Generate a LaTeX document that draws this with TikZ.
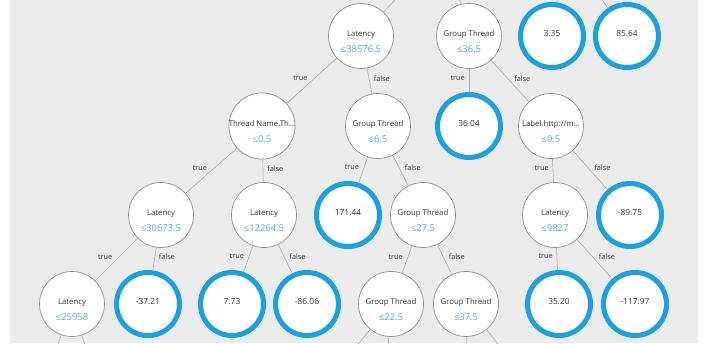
\documentclass[tikz,border=0pt]{standalone}
\usepackage{fontspec}
\setmainfont{Open Sans}
\definecolor{bg}{HTML}{EBEBEB}
\definecolor{ring}{HTML}{1BA1E2}
\definecolor{thr}{HTML}{4FA9D6}
\definecolor{edgec}{HTML}{ABABAB}
\definecolor{txt}{HTML}{333333}
\definecolor{rim}{HTML}{8C8C8C}
\newcommand\splittext[2]{\smash{\fontsize{7.8}{16}\selectfont\begin{tabular}[t]{@{}c@{}}#1\\{\fontsize{9.4}{11}\selectfont\color{thr}#2}\end{tabular}}}
\newcommand\leaftext[1]{\smash{#1}}
\begin{document}
\begin{tikzpicture}[x=1pt,y=-1pt,
  splitn/.style={circle, draw=rim, line width=0.7pt, fill=white, minimum size=65pt, inner sep=0pt, text=txt},
  leafn/.style={circle, draw=ring, line width=5pt, fill=white, minimum size=63pt, inner sep=0pt, text=txt, font=\fontsize{8.4}{10}\selectfont},
  conn/.style={draw=edgec, line width=0.6pt},
  tl/.style={left, pos=.5, inner sep=4pt, yshift=2.5pt, text=txt, font=\fontsize{7.3}{9}\selectfont},
  fl/.style={right, pos=.5, inner sep=4pt, yshift=2.5pt, text=txt, font=\fontsize{7.3}{9}\selectfont}]
\useasboundingbox (0,0) rectangle (707,343);
\fill[white] (0,0) rectangle (707,343);
\fill[bg] (10,0) rectangle (698,343);
\clip (10,0) rectangle (698,343);
% off-canvas anchors
\coordinate (top1) at (446,-54);
\coordinate (top2) at (565,-54);
\coordinate (b1) at (41,393);
\coordinate (b2) at (100,393);
\coordinate (b3) at (318,393);
\coordinate (b4) at (385,393);
\coordinate (b5) at (468,393);
\coordinate (b6) at (537,393);
% level 1
\node[splitn] (lat1) at (361,36) {\splittext{Latency}{≤38576.5}};
\node[splitn] (gt1) at (469,36) {\splittext{Group Thread}{≤36.5}};
\node[leafn] (l335) at (552,36) {\leaftext{3.35}};
\node[leafn] (l8564) at (627,36) {\leaftext{85.64}};
% level 2
\node[splitn] (tn) at (262,126) {\splittext{Thread Name.Th...}{≤0.5}};
\node[splitn] (gt2) at (378,126) {\splittext{Group Thread}{≤6.5}};
\node[leafn] (l3604) at (469,126) {\leaftext{36.04}};
\node[splitn] (lab) at (551,126) {\splittext{Label.http://m...}{≤0.5}};
% level 3
\node[splitn] (lat2) at (161,215) {\splittext{Latency}{≤30673.5}};
\node[splitn] (lat3) at (264,215) {\splittext{Latency}{≤12264.5}};
\node[leafn] (l17144) at (348,215) {\leaftext{171.44}};
\node[splitn] (gt3) at (423,215) {\splittext{Group Thread}{≤27.5}};
\node[splitn] (lat4) at (555,215) {\splittext{Latency}{≤9827}};
\node[leafn] (l8975) at (630,215) {\leaftext{-89.75}};
% level 4
\node[splitn] (lat5) at (72,304) {\splittext{Latency}{≤25958}};
\node[leafn] (l3721) at (148,304) {\leaftext{-37.21}};
\node[leafn] (l773) at (232,304) {\leaftext{7.73}};
\node[leafn] (l8606) at (307,304) {\leaftext{-86.06}};
\node[splitn] (gt4) at (391,304) {\splittext{Group Thread}{≤22.5}};
\node[splitn] (gt5) at (466,304) {\splittext{Group Thread}{≤37.5}};
\node[leafn] (l3520) at (559,304) {\leaftext{35.20}};
\node[leafn] (l11797) at (635,304) {\leaftext{-117.97}};
% connectors
\path[conn] (top1) -- (lat1);
\path[conn] (top1) -- (gt1);
\path[conn] (top2) -- (l335);
\path[conn] (top2) -- (l8564);
\path[conn] (lat1) -- node[tl]{true} (tn);
\path[conn] (lat1) -- node[fl]{false} (gt2);
\path[conn] (gt1) -- node[tl]{true} (l3604);
\path[conn] (gt1) -- node[fl]{false} (lab);
\path[conn] (tn) -- node[tl]{true} (lat2);
\path[conn] (tn) -- node[fl]{false} (lat3);
\path[conn] (gt2) -- node[tl]{true} (l17144);
\path[conn] (gt2) -- node[fl]{false} (gt3);
\path[conn] (lab) -- node[tl]{true} (lat4);
\path[conn] (lab) -- node[fl]{false} (l8975);
\path[conn] (lat2) -- node[tl]{true} (lat5);
\path[conn] (lat2) -- node[fl]{false} (l3721);
\path[conn] (lat3) -- node[tl]{true} (l773);
\path[conn] (lat3) -- node[fl]{false} (l8606);
\path[conn] (gt3) -- node[tl]{true} (gt4);
\path[conn] (gt3) -- node[fl]{false} (gt5);
\path[conn] (lat4) -- node[tl]{true} (l3520);
\path[conn] (lat4) -- node[fl]{false} (l11797);
\path[conn] (lat5) -- (b1);
\path[conn] (lat5) -- (b2);
\path[conn] (gt4) -- (b3);
\path[conn] (gt4) -- (b4);
\path[conn] (gt5) -- (b5);
\path[conn] (gt5) -- (b6);
\end{tikzpicture}
\end{document}
